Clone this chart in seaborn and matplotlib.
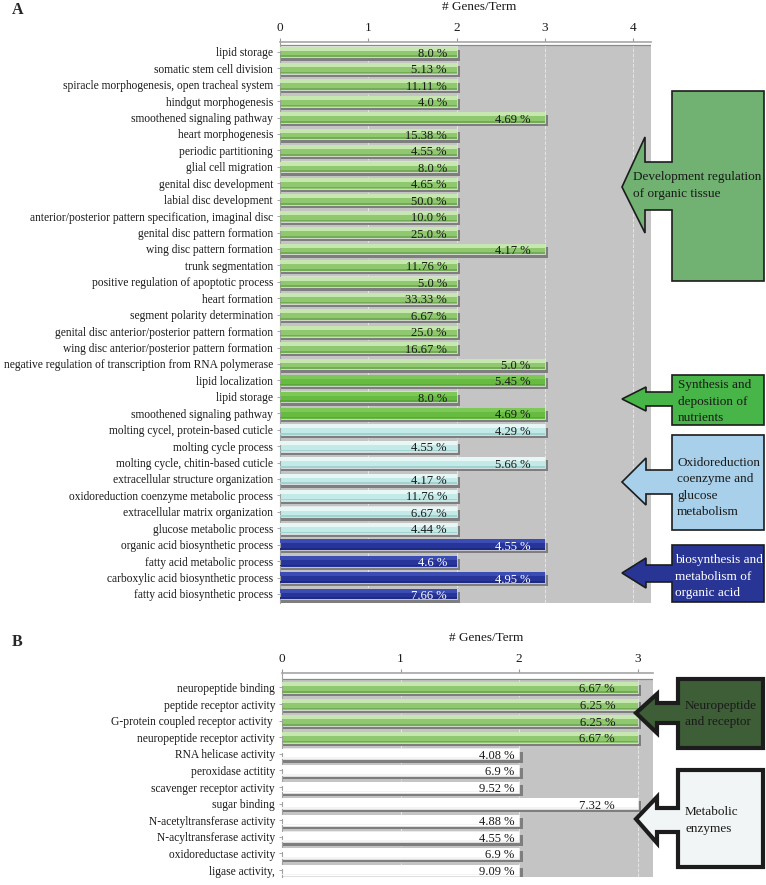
import numpy as np
import pandas as pd
import matplotlib
matplotlib.use('Agg')
import matplotlib.pyplot as plt
import seaborn as sns
from matplotlib.patches import Polygon

# ---- Panel A data ----
a_terms = [
    'lipid storage', 'somatic stem cell division',
    'spiracle morphogenesis, open tracheal system', 'hindgut morphogenesis',
    'smoothened signaling pathway', 'heart morphogenesis', 'periodic partitioning',
    'glial cell migration', 'genital disc development', 'labial disc development',
    'anterior/posterior pattern specification, imaginal disc',
    'genital disc pattern formation', 'wing disc pattern formation',
    'trunk segmentation', 'positive regulation of apoptotic process',
    'heart formation', 'segment polarity determination',
    'genital disc anterior/posterior pattern formation',
    'wing disc anterior/posterior pattern formation',
    'negative regulation of transcription from RNA polymerase',
    'lipid localization', 'lipid storage', 'smoothened signaling pathway',
    'molting cycel, protein-based cuticle', 'molting cycle process',
    'molting cycle, chitin-based cuticle', 'extracellular structure organization',
    'oxidoreduction coenzyme metabolic process', 'extracellular matrix organization',
    'glucose metabolic process', 'organic acid biosynthetic process',
    'fatty acid metabolic process', 'carboxylic acid biosynthetic process',
    'fatty acid biosynthetic process',
]
a_genes = [2, 2, 2, 2, 3, 2, 2, 2, 2, 2, 2, 2, 3, 2, 2, 2, 2, 2, 2, 3,
           3, 2, 3, 3, 2, 3, 2, 2, 2, 2, 3, 2, 3, 2]
a_percent = [8.0, 5.13, 11.11, 4.0, 4.69, 15.38, 4.55, 8.0, 4.65, 50.0,
             10.0, 25.0, 4.17, 11.76, 5.0, 33.33, 6.67, 25.0, 16.67, 5.0,
             5.45, 8.0, 4.69, 4.29, 4.55, 5.66, 4.17, 11.76, 6.67, 4.44,
             4.55, 4.6, 4.95, 7.66]
a_group = ['dev'] * 20 + ['nutr'] * 3 + ['oxido'] * 7 + ['acid'] * 4

# ---- Panel B data ----
b_terms = [
    'neuropeptide binding', 'peptide receptor activity',
    'G-protein coupled receptor activity ', 'neuropeptide receptor activity',
    'RNA helicase activity', 'peroxidase actitity', 'scavenger receptor activity',
    'sugar binding', 'N-acetyltransferase activity', 'N-acyltransferase activity',
    'oxidoreductase activity', 'ligase activity,',
]
b_genes = [3, 3, 3, 3, 2, 2, 2, 3, 2, 2, 2, 2]
b_percent = [6.67, 6.25, 6.25, 6.67, 4.08, 6.9, 9.52, 7.32, 4.88, 4.55, 6.9, 9.09]
b_group = ['neuro'] * 4 + ['enzyme'] * 8

# bar styles: main colour, top highlight, bottom shade, text colour
STYLE = {
    'dev': ('#8fc86f', '#c6e7b0', '#72ac55', '#1a1a1a'),
    'nutr': ('#67bb41', '#7cc958', '#5aa83a', '#1a1a1a'),
    'oxido': ('#c4eae8', '#e6f7f6', '#9fd3d1', '#1a1a1a'),
    'acid': ('#27359a', '#3b4cb3', '#1e2a80', '#ffffff'),
    'neuro': ('#8fc86f', '#c6e7b0', '#72ac55', '#1a1a1a'),
    'enzyme': ('#ffffff', '#ffffff', '#f4f4f4', '#1a1a1a'),
}

sns.set_theme(style='white')
plt.rcParams['font.family'] = ['Liberation Serif', 'DejaVu Serif']

W, H = 766, 885
fig = plt.figure(figsize=(W / 100, H / 100), dpi=100)


def px_ax(left, top, right, bottom):
    return fig.add_axes([left / W, 1 - bottom / H, (right - left) / W, (bottom - top) / H])


def draw_panel(ax, terms, genes, pct, groups, xmax, xticks, ylim, gray_top,
               shadow_dx, text_x):
    n = len(terms)
    df = pd.DataFrame({'row': [f'r{i}' for i in range(n)], 'genes': genes,
                       'pct': pct, 'group': groups})
    pos = np.arange(n)
    pal = {r: STYLE[g][0] for r, g in zip(df['row'], df['group'])}

    # drop shadow behind each bar
    ax.barh(pos + 0.2, np.array(genes) + shadow_dx, height=0.66,
            color='#7e7e7e', lw=0, zorder=1)
    sns.barplot(data=df, x='genes', y='row', hue='row', palette=pal, orient='h',
                width=0.66, legend=False, ax=ax, edgecolor='#eeeeee', linewidth=0.5,
                saturation=1, zorder=2)
    # gradient look: light top strip and darker bottom strip
    ax.barh(pos - 0.2, genes, height=0.24, color=[STYLE[g][1] for g in groups],
            lw=0, zorder=3)
    ax.barh(pos + 0.26, genes, height=0.1, color=[STYLE[g][2] for g in groups],
            lw=0, zorder=3)

    for i, (v, p, g) in enumerate(zip(genes, pct, groups)):
        ax.text(text_x(v), i + 0.12, f'{p} %', ha='right', va='center',
                fontsize=9, color=STYLE[g][3], zorder=4)

    ax.set_facecolor('#c4c4c4')
    ax.set_xlim(0, xmax)
    ax.set_ylim(*ylim)
    # white strip between the axis line and the grey plot area
    ax.axhspan(ylim[1], gray_top, color='white', lw=0, zorder=0.6)
    ax.axhline(gray_top, color='#8a8a8a', lw=0.9, zorder=0.7)
    ax.set_yticks(pos)
    ax.set_yticklabels(terms, fontsize=8.3, color='#1a1a1a')
    ax.set_ylabel('')
    ax.xaxis.tick_top()
    ax.xaxis.set_label_position('top')
    ax.set_xticks(xticks)
    ax.set_xticklabels([str(t) for t in xticks], fontsize=9.5, color='#1a1a1a')
    ax.tick_params(axis='x', length=3, pad=3, color='#999999', width=0.8, top=True, bottom=False)
    ax.tick_params(axis='y', length=2.5, pad=2.5, color='#999999', width=0.6, left=True)
    ax.grid(axis='x', ls='--', color='#e6e6e6', lw=0.7)
    ax.grid(axis='y', visible=False)
    ax.set_axisbelow(True)
    for s in ['right', 'bottom']:
        ax.spines[s].set_visible(False)
    ax.spines['top'].set_color('#a5a5a5')
    ax.spines['top'].set_linewidth(1.2)
    ax.spines['left'].set_color('#a0a0a0')
    ax.spines['left'].set_linewidth(0.8)


# ---- Panel A ----
axA = px_ax(280, 42, 651, 603)
draw_panel(axA, a_terms, a_genes, a_percent, a_group, 4.2, [0, 1, 2, 3, 4],
           (33.55, -0.6), -0.42, 0.035, lambda v: v * 0.945)
axA.set_xlabel('# Genes/Term', fontsize=9.5, color='#1a1a1a', va='center')
axA.xaxis.set_label_coords(0.538, 1.062)

# ---- Panel B ----
axB = px_ax(282, 673, 653, 877)
draw_panel(axB, b_terms, b_genes, b_percent, b_group, 3.13, [0, 1, 2, 3],
           (11.42, -0.87), -0.52, 0.03, lambda v: v - 0.04 if v < 3 else v - 0.19)
axB.set_xlabel('# Genes/Term', fontsize=9.5, color='#1a1a1a', va='center')
axB.xaxis.set_label_coords(0.55, 1.17)

fig.text(18 / W, 1 - 10 / H, 'A', fontsize=11.5, fontweight='bold', ha='center', va='center')
fig.text(17.5 / W, 1 - 642 / H, 'B', fontsize=11.5, fontweight='bold', ha='center', va='center')


# ---- block arrows (pixel geometry) ----
def block_arrow(tip_x, head_x, box_x, right_x, top, bottom, head_top, head_bot,
                shaft_top, shaft_bot, tip_y, face, lw):
    pts = [(tip_x, tip_y), (head_x, head_top), (head_x, shaft_top), (box_x, shaft_top),
           (box_x, top), (right_x, top), (right_x, bottom), (box_x, bottom),
           (box_x, shaft_bot), (head_x, shaft_bot), (head_x, head_bot)]
    pts = [(x / W, 1 - y / H) for x, y in pts]
    fig.patches.append(Polygon(pts, closed=True, facecolor=face, edgecolor='#1c1c1c',
                               lw=lw, transform=fig.transFigure, figure=fig,
                               joinstyle='miter'))


arrows = [
    dict(tip_x=622, head_x=645, box_x=672, right_x=764, top=91, bottom=281,
         head_top=137, head_bot=233, shaft_top=162, shaft_bot=210, tip_y=187,
         face='#71b172', lw=1.2),
    dict(tip_x=622, head_x=646, box_x=672, right_x=764, top=375, bottom=425,
         head_top=387, head_bot=411, shaft_top=392, shaft_bot=406, tip_y=399,
         face='#47b547', lw=1.2),
    dict(tip_x=622, head_x=646, box_x=672, right_x=764, top=435, bottom=530,
         head_top=458, head_bot=505, shaft_top=470, shaft_bot=494, tip_y=482,
         face='#a8d0ea', lw=1.2),
    dict(tip_x=622, head_x=646, box_x=672, right_x=764, top=545, bottom=602,
         head_top=558, head_bot=588, shaft_top=565, shaft_bot=582, tip_y=573,
         face='#283594', lw=1.2),
    dict(tip_x=636, head_x=657, box_x=678, right_x=763, top=679, bottom=748,
         head_top=694, head_bot=733, shaft_top=703, shaft_bot=723, tip_y=713,
         face='#3d5e36', lw=3),
    dict(tip_x=636, head_x=657, box_x=678, right_x=763, top=770, bottom=867,
         head_top=797, head_bot=843, shaft_top=808, shaft_bot=832, tip_y=819,
         face='#f2f5f5', lw=3),
]
for a in arrows:
    block_arrow(**a)

box_texts = [
    (633, 185.5, 'Development regulation\nof organic tissue', '#1a1a1a'),
    (678, 401.5, 'Synthesis and\ndeposition of\nnutrients', '#1a1a1a'),
    (677, 487.5, 'Oxidoreduction\ncoenzyme and\nglucose\nmetabolism', '#1a1a1a'),
    (675, 576.5, 'biosynthesis and\nmetabolism of\norganic acid', '#ffffff'),
    (685, 714, 'Neuropeptide\nand receptor', '#1a1a1a'),
    (685, 820.5, 'Metabolic\nenzymes', '#1a1a1a'),
]
for x, y, s, c in box_texts:
    fig.text(x / W, 1 - y / H, s, fontsize=9.5, color=c, ha='left', va='center',
             linespacing=1.45)

fig.savefig('out.png', dpi=100)
